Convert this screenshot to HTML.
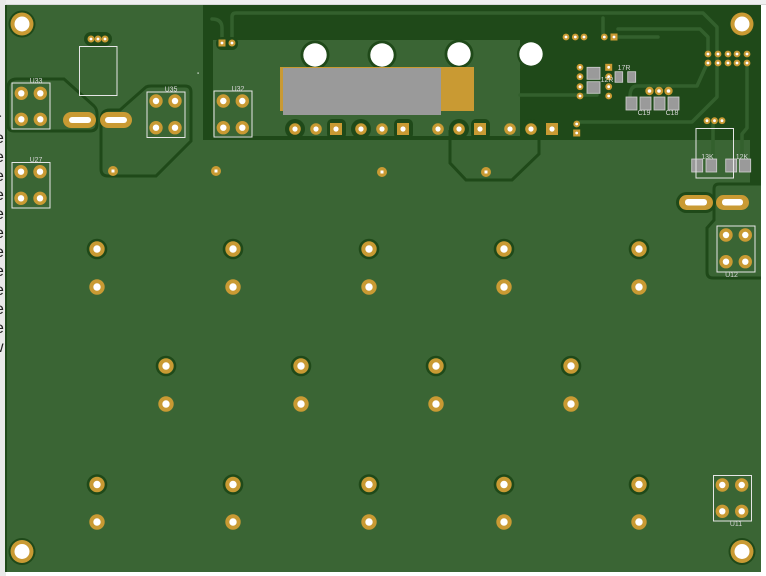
<!DOCTYPE html>
<html><head><meta charset="utf-8"><style>html,body{margin:0;padding:0;background:#fff;width:766px;height:576px;overflow:hidden}svg{display:block}</style></head>
<body>
<svg width="766" height="576" viewBox="0 0 766 576" xmlns="http://www.w3.org/2000/svg" font-family="Liberation Sans, sans-serif">
<rect x="0" y="0" width="766" height="576" fill="#ffffff"/>
<rect x="0" y="0" width="766" height="5" fill="#efefef"/>
<rect x="0" y="4" width="766" height="1" fill="#d8d8d8"/>
<rect x="0" y="0" width="6" height="576" fill="#e9e9e9"/>
<g font-size="16" fill="#222">
<text x="-4" y="124">r</text>
<text x="-5" y="143">e</text><text x="-5" y="162">e</text><text x="-5" y="181">e</text><text x="-5" y="200">e</text>
<text x="-5" y="219">e</text><text x="-5" y="238">e</text><text x="-5" y="257">e</text><text x="-5" y="276">e</text>
<text x="-5" y="295">e</text><text x="-5" y="314">e</text><text x="-5" y="333">e</text>
<text x="-8" y="352">w</text>
</g>
<!-- board -->
<rect x="5" y="5" width="756" height="567" fill="#3a6534"/>
<rect x="5" y="5" width="2" height="567" fill="#1f4919"/>

<!-- dark pour -->
<path d="M203,5 H761 V184 H750 V140 H203 Z" fill="#1f4919"/>
<rect x="213" y="40" width="307" height="96" fill="#3a6534"/>

<!-- light traces in dark pour -->
<g fill="none" stroke="#33602d" stroke-width="3.5" stroke-linecap="round" stroke-linejoin="round">
<path d="M232,43 V17 Q232,13 236,13 H703 L717,27 V97 L692,122 H577"/>
<path d="M212,19 Q222,19 222,28 V43"/>
<path d="M618,29 H700 L708,37 V54"/>
<path d="M603,18 V37"/>
<path d="M618,37 H658"/>
<path d="M520,95 H597"/>
<path d="M747,63 V128 L742,134 V160"/>
<path d="M713,122 V160"/>
<path d="M706,66 L697,86 H637 Q630,86 630,97"/>
</g>

<!-- dark outlines -->
<g fill="none" stroke="#1f4919" stroke-width="3">
<path d="M8,88 Q8,79 17,79 H64 L94,106 Q97,109 97,114 V124 Q97,131 90,131 H14 Q8,131 8,125 Z"/>
<path d="M101,120 Q101,110 110,110 H120 L146,87 Q148,86 151,86 H185 Q191,86 191,92 V141 L156,176 H108 Q101,176 101,169 Z"/>
<path d="M450,130 V163 L466,180 H512 L539,154 V130"/>
<path d="M761,184 H719 Q714,184 714,189 V220 L707,228 V272 Q707,278 713,278 H761"/>
</g>

<!-- pad rings at bottom of pour -->
<g fill="#1f4919">
<circle cx="295" cy="129" r="10"/>
<rect x="327" y="119" width="19" height="20" rx="5"/>
<circle cx="361" cy="129" r="10"/>
<rect x="394" y="119" width="19" height="20" rx="5"/>
<circle cx="459" cy="129" r="10"/>
<rect x="471" y="119" width="19" height="20" rx="5"/>
<circle cx="531" cy="129" r="10"/>
<!-- top hole rings -->
<circle cx="315" cy="55" r="14.5"/>
<circle cx="382" cy="55" r="14.5"/>
<circle cx="459" cy="54" r="14.5"/>
<circle cx="531" cy="54" r="14"/>
<!-- small pads ring -->
<rect x="84" y="32" width="28" height="14" rx="7"/>
<rect x="216" y="37" width="22" height="13" rx="6"/>
<!-- mounting hole rings -->
<circle cx="22" cy="24" r="13.5"/>
<circle cx="742" cy="24" r="13.5"/>
<circle cx="22" cy="551.5" r="13.5"/>
<circle cx="742" cy="551.5" r="13.5"/>
<!-- oval ring right -->
<rect x="676" y="192" width="40" height="21" rx="10.5"/>
</g>

<!-- gold/grey block -->
<rect x="280" y="67" width="194" height="44" fill="#c99a33"/>
<rect x="283" y="68" width="158" height="47" fill="#9a9a9a"/>

<!-- white holes top -->
<g fill="#ffffff">
<circle cx="315" cy="55" r="11.7"/>
<circle cx="382" cy="55" r="11.7"/>
<circle cx="459" cy="54" r="11.7"/>
<circle cx="531" cy="54" r="11.7"/>
</g>

<!-- mounting holes -->
<g>
<circle cx="22" cy="24" r="11.5" fill="#c99a33"/><circle cx="22" cy="24" r="7.5" fill="#fff"/>
<circle cx="742" cy="24" r="11.5" fill="#c99a33"/><circle cx="742" cy="24" r="7.5" fill="#fff"/>
<circle cx="22" cy="551.5" r="11.5" fill="#c99a33"/><circle cx="22" cy="551.5" r="7.5" fill="#fff"/>
<circle cx="742" cy="551.5" r="11.5" fill="#c99a33"/><circle cx="742" cy="551.5" r="7.5" fill="#fff"/>
</g>

<!-- big grid pads: rings -->
<g fill="#1f4919">
<circle cx="97" cy="249" r="10.3"/><circle cx="233" cy="249" r="10.3"/><circle cx="369" cy="249" r="10.3"/><circle cx="504" cy="249" r="10.3"/><circle cx="639" cy="249" r="10.3"/>
<circle cx="166" cy="366" r="10.3"/><circle cx="301" cy="366" r="10.3"/><circle cx="436" cy="366" r="10.3"/><circle cx="571" cy="366" r="10.3"/>
<circle cx="97" cy="484.5" r="10.3"/><circle cx="233" cy="484.5" r="10.3"/><circle cx="369" cy="484.5" r="10.3"/><circle cx="504" cy="484.5" r="10.3"/><circle cx="639" cy="484.5" r="10.3"/>
</g>
<g fill="#c99a33">
<circle cx="97" cy="249" r="7.7"/><circle cx="233" cy="249" r="7.7"/><circle cx="369" cy="249" r="7.7"/><circle cx="504" cy="249" r="7.7"/><circle cx="639" cy="249" r="7.7"/>
<circle cx="97" cy="287" r="7.7"/><circle cx="233" cy="287" r="7.7"/><circle cx="369" cy="287" r="7.7"/><circle cx="504" cy="287" r="7.7"/><circle cx="639" cy="287" r="7.7"/>
<circle cx="166" cy="366" r="7.7"/><circle cx="301" cy="366" r="7.7"/><circle cx="436" cy="366" r="7.7"/><circle cx="571" cy="366" r="7.7"/>
<circle cx="166" cy="404" r="7.7"/><circle cx="301" cy="404" r="7.7"/><circle cx="436" cy="404" r="7.7"/><circle cx="571" cy="404" r="7.7"/>
<circle cx="97" cy="484.5" r="7.7"/><circle cx="233" cy="484.5" r="7.7"/><circle cx="369" cy="484.5" r="7.7"/><circle cx="504" cy="484.5" r="7.7"/><circle cx="639" cy="484.5" r="7.7"/>
<circle cx="97" cy="522" r="7.7"/><circle cx="233" cy="522" r="7.7"/><circle cx="369" cy="522" r="7.7"/><circle cx="504" cy="522" r="7.7"/><circle cx="639" cy="522" r="7.7"/>
</g>
<g fill="#ffffff">
<circle cx="97" cy="249" r="3.7"/><circle cx="233" cy="249" r="3.7"/><circle cx="369" cy="249" r="3.7"/><circle cx="504" cy="249" r="3.7"/><circle cx="639" cy="249" r="3.7"/>
<circle cx="97" cy="287" r="3.7"/><circle cx="233" cy="287" r="3.7"/><circle cx="369" cy="287" r="3.7"/><circle cx="504" cy="287" r="3.7"/><circle cx="639" cy="287" r="3.7"/>
<circle cx="166" cy="366" r="3.7"/><circle cx="301" cy="366" r="3.7"/><circle cx="436" cy="366" r="3.7"/><circle cx="571" cy="366" r="3.7"/>
<circle cx="166" cy="404" r="3.7"/><circle cx="301" cy="404" r="3.7"/><circle cx="436" cy="404" r="3.7"/><circle cx="571" cy="404" r="3.7"/>
<circle cx="97" cy="484.5" r="3.7"/><circle cx="233" cy="484.5" r="3.7"/><circle cx="369" cy="484.5" r="3.7"/><circle cx="504" cy="484.5" r="3.7"/><circle cx="639" cy="484.5" r="3.7"/>
<circle cx="97" cy="522" r="3.7"/><circle cx="233" cy="522" r="3.7"/><circle cx="369" cy="522" r="3.7"/><circle cx="504" cy="522" r="3.7"/><circle cx="639" cy="522" r="3.7"/>
</g>

<!-- 4-pad modules -->
<g fill="#c99a33">
<circle cx="21.3" cy="93.3" r="6.7"/><circle cx="40.3" cy="93.3" r="6.7"/><circle cx="21.3" cy="119.3" r="6.7"/><circle cx="40.3" cy="119.3" r="6.7"/>
<circle cx="21" cy="171.7" r="6.7"/><circle cx="40" cy="171.7" r="6.7"/><circle cx="21" cy="198.3" r="6.7"/><circle cx="40" cy="198.3" r="6.7"/>
<circle cx="156" cy="101" r="6.7"/><circle cx="175" cy="101" r="6.7"/><circle cx="156" cy="127.7" r="6.7"/><circle cx="175" cy="127.7" r="6.7"/>
<circle cx="223.3" cy="101" r="6.7"/><circle cx="242.3" cy="101" r="6.7"/><circle cx="223.3" cy="127.7" r="6.7"/><circle cx="242.3" cy="127.7" r="6.7"/>
<circle cx="726" cy="235" r="6.7"/><circle cx="745.3" cy="235" r="6.7"/><circle cx="726" cy="261.7" r="6.7"/><circle cx="745.3" cy="261.7" r="6.7"/>
<circle cx="722.3" cy="485" r="6.7"/><circle cx="741.7" cy="485" r="6.7"/><circle cx="722.3" cy="511.3" r="6.7"/><circle cx="741.7" cy="511.3" r="6.7"/>
</g>
<g fill="#ffffff">
<circle cx="21.3" cy="93.3" r="3.2"/><circle cx="40.3" cy="93.3" r="3.2"/><circle cx="21.3" cy="119.3" r="3.2"/><circle cx="40.3" cy="119.3" r="3.2"/>
<circle cx="21" cy="171.7" r="3.2"/><circle cx="40" cy="171.7" r="3.2"/><circle cx="21" cy="198.3" r="3.2"/><circle cx="40" cy="198.3" r="3.2"/>
<circle cx="156" cy="101" r="3.2"/><circle cx="175" cy="101" r="3.2"/><circle cx="156" cy="127.7" r="3.2"/><circle cx="175" cy="127.7" r="3.2"/>
<circle cx="223.3" cy="101" r="3.2"/><circle cx="242.3" cy="101" r="3.2"/><circle cx="223.3" cy="127.7" r="3.2"/><circle cx="242.3" cy="127.7" r="3.2"/>
<circle cx="726" cy="235" r="3.2"/><circle cx="745.3" cy="235" r="3.2"/><circle cx="726" cy="261.7" r="3.2"/><circle cx="745.3" cy="261.7" r="3.2"/>
<circle cx="722.3" cy="485" r="3.2"/><circle cx="741.7" cy="485" r="3.2"/><circle cx="722.3" cy="511.3" r="3.2"/><circle cx="741.7" cy="511.3" r="3.2"/>
</g>

<!-- oval pads -->
<g fill="#c99a33">
<rect x="63" y="112" width="33" height="16" rx="8"/>
<rect x="100" y="112" width="32" height="16" rx="8"/>
<rect x="679" y="195" width="34" height="15" rx="7.5"/>
<rect x="716" y="195" width="33" height="15" rx="7.5"/>
</g>
<g fill="#ffffff">
<rect x="69" y="117" width="22" height="6" rx="3"/>
<rect x="105" y="117" width="22" height="6" rx="3"/>
<rect x="685" y="199" width="22" height="6.5" rx="3"/>
<rect x="722" y="199" width="21" height="6.5" rx="3"/>
</g>

<!-- header row pads -->
<g fill="#c99a33">
<circle cx="295" cy="129" r="5.8"/><circle cx="316" cy="129" r="5.8"/><rect x="330" y="123" width="12" height="12"/>
<circle cx="361" cy="129" r="5.8"/><circle cx="382" cy="129" r="5.8"/><rect x="397" y="123" width="12" height="12"/>
<circle cx="438" cy="129" r="5.8"/><circle cx="459" cy="129" r="5.8"/><rect x="474" y="123" width="12" height="12"/>
<circle cx="510" cy="129" r="5.8"/><circle cx="531" cy="129" r="5.8"/><rect x="546" y="123" width="12" height="12"/>
</g>
<g fill="#ffffff">
<circle cx="295" cy="129" r="2.6"/><circle cx="316" cy="129" r="2.6"/><circle cx="336" cy="129" r="2.6"/>
<circle cx="361" cy="129" r="2.6"/><circle cx="382" cy="129" r="2.6"/><circle cx="403" cy="129" r="2.6"/>
<circle cx="438" cy="129" r="2.6"/><circle cx="459" cy="129" r="2.6"/><circle cx="480" cy="129" r="2.6"/>
<circle cx="510" cy="129" r="2.6"/><circle cx="531" cy="129" r="2.6"/><circle cx="552" cy="129" r="2.6"/>
</g>

<!-- vias -->
<g fill="#c99a33">
<circle cx="113" cy="171" r="5"/><circle cx="216" cy="171" r="5"/><circle cx="382" cy="172" r="5"/><circle cx="486" cy="172" r="5"/>
</g>
<g fill="#ffffff">
<rect x="111.5" y="169.5" width="3" height="3"/><rect x="214.5" y="169.5" width="3" height="3"/><rect x="380.5" y="170.5" width="3" height="3"/><rect x="484.5" y="170.5" width="3" height="3"/>
<rect x="197.5" y="72.5" width="1.2" height="1.2"/>
</g>

<!-- small pads -->
<g fill="#c99a33">
<circle cx="91" cy="39" r="3.5"/><circle cx="98" cy="39" r="3.5"/><circle cx="105" cy="39" r="3.5"/>
<rect x="218.5" y="39.5" width="7" height="7"/><circle cx="232" cy="43" r="3.5"/>
<circle cx="566" cy="37" r="3.4"/><circle cx="575.3" cy="37" r="3.4"/><circle cx="584" cy="37" r="3.4"/>
<circle cx="604.3" cy="37" r="3.4"/><rect x="610.5" y="33.5" width="7" height="7"/>
<circle cx="580" cy="67.3" r="3.4"/><circle cx="580" cy="76.7" r="3.4"/><circle cx="580" cy="86.7" r="3.4"/><circle cx="580" cy="96" r="3.4"/>
<rect x="605.2" y="63.8" width="7" height="7"/><circle cx="608.7" cy="76.7" r="3.4"/><circle cx="608.7" cy="86.7" r="3.4"/><circle cx="608.7" cy="96" r="3.4"/>
<circle cx="649.5" cy="91" r="4.2"/><circle cx="659" cy="91" r="4.2"/><circle cx="668.5" cy="91" r="4.2"/>
<circle cx="576.7" cy="124" r="3.4"/><rect x="573.2" y="129.5" width="7" height="7"/>
<circle cx="707" cy="120.7" r="3.4"/><circle cx="714.5" cy="120.7" r="3.4"/><circle cx="722" cy="120.7" r="3.4"/>
<circle cx="708" cy="54" r="3.4"/><circle cx="718" cy="54" r="3.4"/><circle cx="728" cy="54" r="3.4"/><circle cx="737" cy="54" r="3.4"/><circle cx="747" cy="54" r="3.4"/>
<circle cx="708" cy="63" r="3.4"/><circle cx="718" cy="63" r="3.4"/><circle cx="728" cy="63" r="3.4"/><circle cx="737" cy="63" r="3.4"/><circle cx="747" cy="63" r="3.4"/>
</g>
<g fill="#ffffff">
<circle cx="91" cy="39" r="1.4"/><circle cx="98" cy="39" r="1.4"/><circle cx="105" cy="39" r="1.4"/>
<circle cx="222" cy="43" r="1.4"/><circle cx="232" cy="43" r="1.4"/>
<circle cx="566" cy="37" r="1.4"/><circle cx="575.3" cy="37" r="1.4"/><circle cx="584" cy="37" r="1.4"/>
<circle cx="604.3" cy="37" r="1.4"/><circle cx="614" cy="37" r="1.4"/>
<circle cx="580" cy="67.3" r="1.4"/><circle cx="580" cy="76.7" r="1.4"/><circle cx="580" cy="86.7" r="1.4"/><circle cx="580" cy="96" r="1.4"/>
<circle cx="608.7" cy="67.3" r="1.4"/><circle cx="608.7" cy="76.7" r="1.4"/><circle cx="608.7" cy="86.7" r="1.4"/><circle cx="608.7" cy="96" r="1.4"/>
<circle cx="649.5" cy="91" r="1.8"/><circle cx="659" cy="91" r="1.8"/><circle cx="668.5" cy="91" r="1.8"/>
<circle cx="576.7" cy="124" r="1.4"/><circle cx="576.7" cy="133" r="1.4"/>
<circle cx="707" cy="120.7" r="1.4"/><circle cx="714.5" cy="120.7" r="1.4"/><circle cx="722" cy="120.7" r="1.4"/>
<circle cx="708" cy="54" r="1.4"/><circle cx="718" cy="54" r="1.4"/><circle cx="728" cy="54" r="1.4"/><circle cx="737" cy="54" r="1.4"/><circle cx="747" cy="54" r="1.4"/>
<circle cx="708" cy="63" r="1.4"/><circle cx="718" cy="63" r="1.4"/><circle cx="728" cy="63" r="1.4"/><circle cx="737" cy="63" r="1.4"/><circle cx="747" cy="63" r="1.4"/>
</g>

<!-- grey SMD pads -->
<g fill="#9a9a9a" stroke="#d0d0d0" stroke-width="0.8">
<rect x="587" y="67.3" width="13" height="12"/><rect x="587" y="81.7" width="13" height="11.6"/>
<rect x="615" y="71.7" width="7.7" height="10.6"/><rect x="627.7" y="71.7" width="8" height="10.6"/>
<rect x="626" y="97" width="11" height="13"/><rect x="640" y="97" width="11" height="13"/>
<rect x="654" y="97" width="11" height="13"/><rect x="668" y="97" width="11" height="13"/>
<rect x="691.7" y="159" width="11" height="13"/><rect x="706" y="159" width="10.7" height="13"/>
<rect x="725.7" y="159" width="11" height="13"/><rect x="739.3" y="159" width="11.4" height="13"/>
</g>

<!-- silkscreen outlines -->
<g fill="none" stroke="#e6e6e6" stroke-width="1">
<rect x="12" y="83" width="38" height="46"/>
<rect x="12" y="162.5" width="38" height="45.5"/>
<rect x="147" y="92" width="38" height="45.5"/>
<rect x="214" y="91" width="38" height="46"/>
<rect x="717" y="226" width="38" height="46"/>
<rect x="713.5" y="475.5" width="38" height="45.5"/>
<rect x="79.5" y="46.5" width="37.5" height="49"/>
<rect x="696" y="128.5" width="37.5" height="49.5"/>
</g>

<!-- labels -->
<g font-size="7" fill="#d6d6d6" text-anchor="middle">
<text x="36" y="83">U33</text>
<text x="36" y="162">U27</text>
<text x="171" y="91.5">U35</text>
<text x="238" y="91">U32</text>
<text x="731.5" y="277">U12</text>
<text x="736" y="526">U11</text>
<text x="624" y="70">17R</text>
<text x="607" y="82">12R</text>
<text x="644" y="115">C19</text>
<text x="672" y="115">C18</text>
<text x="707.5" y="159">13K</text>
<text x="742" y="159">12K</text>
</g>
</svg>
</body></html>
